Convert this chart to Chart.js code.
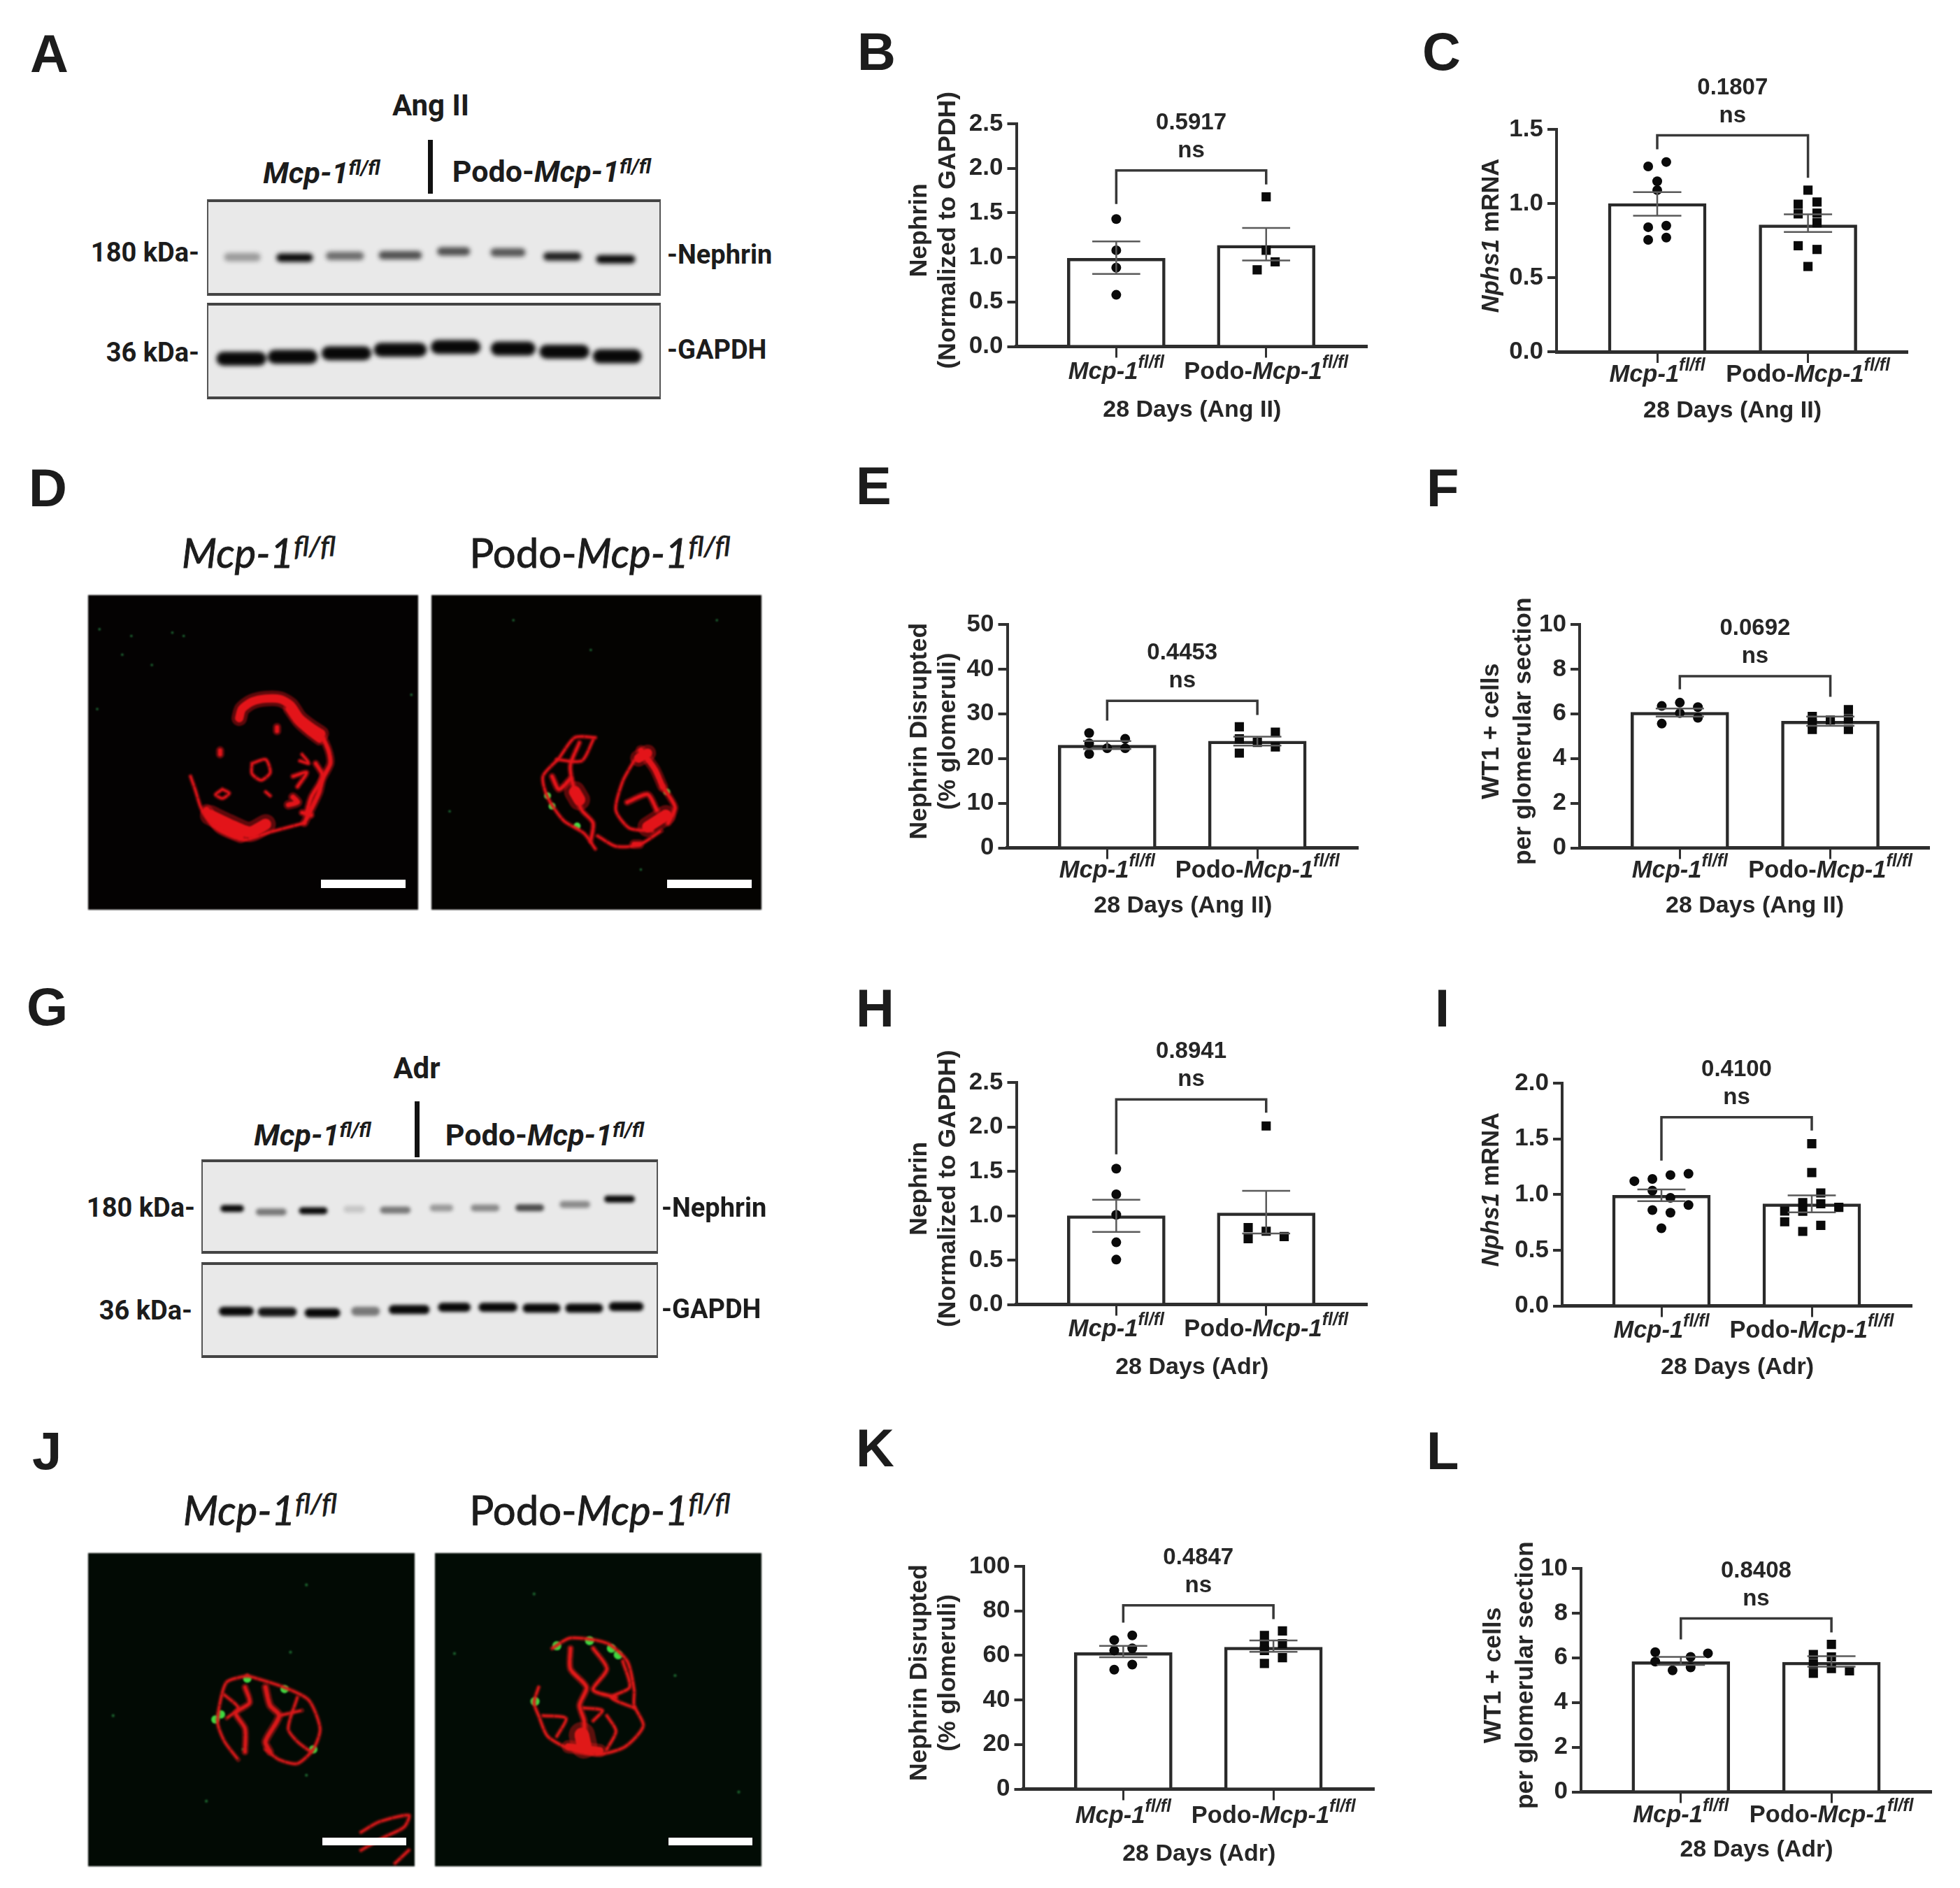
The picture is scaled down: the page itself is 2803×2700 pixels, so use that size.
<!DOCTYPE html>
<html>
<head>
<meta charset="utf-8">
<title>Nephrin panels</title>
<script src="https://cdn.jsdelivr.net/npm/chart.js@4"></script>
<style>
  html, body { margin: 0; background: #fff; }
  #page { position: relative; width: 2803px; height: 2700px; overflow: hidden; background: #fff; filter: blur(0.7px); }
  #page canvas { position: absolute; }
  .txt { position: absolute; white-space: nowrap; color: #1c1c1c; transform: translate(0, -50%); }
  .txt.c { transform: translate(-50%, -50%); }
  .txt.r { transform: translate(-100%, -50%); }
  .txt sup { font-size: 68%; line-height: 0; vertical-align: 0.42em; }
  .frame { position: absolute; box-sizing: border-box; background: #e9e9e9; border: 2px solid #555; border-top: 4px solid #444; border-bottom: 4px solid #444; }
  .box { position: absolute; }
</style>
</head>
<body>
<div id="page"></div>
<script>
// group labels, x axis conditions
const groupNames = ["Mcp-1", "Podo-Mcp-1"];
const supText = "fl/fl";
const angLabel = "28 Days (Ang II)";
const adrLabel = "28 Days (Adr)";

// B
const bMeans = [0.99, 1.135], bHigh = [1.18, 1.33], bLow = [0.815, 0.965];
const bMcp = [1.43, 1.08, 0.885, 0.58], bMcpX = [0, 0, 0, 0];
const bPodo = [1.68, 1.08, 0.95, 0.86], bPodoX = [1, 1, 1.06, 0.94];
// C
const cMeans = [1.0, 0.856], cHigh = [1.077, 0.927], cLow = [0.917, 0.808];
const cMcp = [1.28, 1.25, 1.15, 1.09, 0.84, 0.85, 0.755, 0.77], cMcpX = [0.06, -0.06, 0, 0, -0.06, 0.06, -0.06, 0.06];
const cPodo = [1.09, 0.995, 1.01, 0.93, 0.935, 0.87, 0.715, 0.69, 0.575], cPodoX = [1, 0.935, 1.06, 0.935, 1.06, 1.06, 0.935, 1.06, 1];
// E
const eMeans = [23, 23.9], eHigh = [23.9, 24.9], eLow = [22.1, 22.9];
const eMcp = [25.7, 23.4, 21, 22.3, 24.4, 22.3], eMcpX = [-0.12, -0.12, -0.12, 0, 0.12, 0.12];
const ePodo = [27.1, 24.4, 21.2, 23.6, 25.9, 22.6], ePodoX = [0.88, 0.88, 0.88, 1, 1.12, 1.12];
// F
const fMeans = [6.07, 5.67], fHigh = [6.24, 5.88], fLow = [5.88, 5.46];
const fMcp = [6.35, 5.56, 6.5, 6.03, 6.3, 5.82], fMcpX = [-0.12, -0.12, 0, 0, 0.12, 0.12];
const fPodo = [5.88, 5.56, 5.3, 5.72, 6.19, 5.77, 5.3], fPodoX = [0.88, 0.88, 0.88, 1, 1.12, 1.12, 1.12];
// H
const hMeans = [1.0, 1.03], hHigh = [1.18, 1.28], hLow = [0.816, 0.8];
const hMcp = [1.53, 1.24, 1.01, 0.7, 0.505], hMcpX = [0, 0, 0, 0, 0];
const hPodo = [2.01, 0.865, 0.74, 0.825, 0.765], hPodoX = [1, 0.88, 0.88, 1, 1.12];
// I
const iMeans = [0.993, 0.917], iHigh = [1.046, 0.992], iLow = [0.94, 0.84];
const iMcp = [1.12, 1.14, 1.175, 1.187, 1.035, 0.97, 0.906, 0.86, 0.837, 0.697];
const iMcpX = [-0.18, -0.06, 0.06, 0.18, -0.06, 0.06, 0.18, -0.06, 0.06, 0];
const iPodo = [1.456, 1.197, 1.014, 0.928, 0.917, 0.852, 0.85, 0.885, 0.755, 0.723, 0.669];
const iPodoX = [1, 1, 1.06, 0.94, 1.06, 0.82, 0.94, 1.18, 0.82, 1.06, 0.94];
// K
const kMeans = [61.3, 63.7], kHigh = [64.3, 66.7], kLow = [59.2, 61.6];
const kMcp = [66.9, 69, 62.2, 63.2, 53.6, 55.9], kMcpX = [-0.06, 0.06, -0.06, 0.06, -0.06, 0.06];
const kPodo = [69, 71, 65.3, 65.3, 62.2, 59, 56.4], kPodoX = [0.94, 1.06, 0.94, 1.06, 0.94, 1.06, 0.94];
// L
const lMeans = [5.83, 5.8], lHigh = [6.04, 6.07], lLow = [5.68, 5.6];
const lMcp = [6.25, 5.83, 5.44, 6.04, 5.57, 6.2], lMcpX = [-0.17, -0.17, -0.055, 0.065, 0.065, 0.18];
const lPodo = [6.15, 5.73, 5.31, 6.6, 6.04, 5.52, 5.42], lPodoX = [0.88, 0.88, 0.88, 1, 1, 1, 1.12];

// western blot bands, in crop units of each blot
const aNephX = [472, 574, 672, 780, 884, 990, 1096, 1200], aNephY = [803, 805, 798, 795, 778, 783, 800, 812];
const aNephW = [55, 55, 58, 68, 48, 52, 58, 60], aNephD = [0.35, 1, 0.55, 0.68, 0.68, 0.65, 0.9, 1];
const aGapdhX = [470, 570, 675, 780, 888, 1000, 1100, 1203], aGapdhY = [1238, 1230, 1215, 1200, 1188, 1195, 1208, 1228];
const aGapdhW = [70, 70, 70, 76, 70, 60, 70, 68], aGapdhD = [1, 1, 1, 1, 1, 1, 1, 1];
const gNephX = [452, 528, 610, 690, 770, 860, 945, 1032, 1120, 1207], gNephY = [745, 760, 755, 748, 752, 743, 743, 742, 728, 705];
const gNephW = [32, 46, 42, 28, 46, 32, 42, 42, 46, 46], gNephD = [1, 0.5, 1, 0.15, 0.5, 0.35, 0.42, 0.7, 0.42, 1];
const gGapdhX = [460, 540, 628, 712, 797, 885, 970, 1055, 1138, 1220], gGapdhY = [1185, 1188, 1192, 1185, 1178, 1168, 1168, 1172, 1172, 1165];
const gGapdhW = [50, 58, 52, 38, 62, 46, 58, 56, 56, 50], gGapdhD = [1, 0.95, 1, 0.5, 1, 1, 1, 1, 1, 1];

// micrograph traces, in crop units [width, x, y, x, y ...]
const dLeftRed = [
  [12, 372,775, 378,740, 400,712, 430,700, 462,702, 485,725, 505,775, 530,810, 552,835],
  [8, 480,740, 500,790, 525,830, 548,860],
  [6, 552,835, 568,900, 572,950, 555,1010, 548,1060, 535,1110, 515,1180],
  [5, 540,950, 555,1000, 530,1080, 520,1140],
  [16, 308,1150, 350,1185, 395,1215, 430,1185],
  [9, 300,1130, 330,1200, 375,1235],
  [3, 515,1180, 440,1215, 380,1245, 320,1200, 290,1130, 275,1050, 265,1000],
  [3, 400,950, 430,935, 440,985, 420,1015, 400,990, 400,950],
  [3, 335,1050, 350,1065, 335,1085, 320,1070, 335,1050],
  [4, 490,1000, 520,985, 500,1040],
  [3, 510,915, 525,950, 505,940],
  [7, 480,1110, 500,1100, 490,1080],
  [6, 455,810, 455,825],
  [6, 330,900, 330,915],
  [3, 430,1060, 440,1075],
  [5, 510,1140, 530,1150]
];
const dLeftGreen = [347,1218];
const dLeftFaint = [65,432, 135,458, 180,570, 115,530, 225,445, 250,458, 750,685, 60,740];
const dRightRed = [
  [3, 1155,850, 1110,850, 1075,930, 1040,1000, 1050,1080, 1085,1170, 1130,1220, 1155,1280],
  [4, 1120,870, 1100,960, 1110,1060, 1125,1130, 1150,1180, 1145,1250],
  [3, 1150,860, 1125,940, 1070,935],
  [5, 1060,1000, 1075,1050, 1100,1010],
  [17, 1110,1060, 1120,1090],
  [8, 1255,900, 1285,970, 1303,1040],
  [5, 1303,1040, 1330,1120, 1315,1180],
  [13, 1250,930, 1270,910],
  [3, 1240,940, 1215,1020, 1200,1130, 1230,1200, 1280,1210],
  [3, 1160,1230, 1200,1270, 1250,1265, 1300,1210],
  [16, 1270,1195, 1310,1150],
  [5, 1225,1100, 1270,1070, 1290,1130],
  [7, 1240,1262, 1252,1262]
];
const dRightGreen = [1050,1075, 1060,1115, 1115,1192, 1312,1060];
const dRightFaint = [1422,397, 975,397, 835,1135, 1255,1360, 1145,512];
const jLeftRed = [
  [3, 390,745, 345,770, 330,850, 325,930, 340,1000, 370,1070],
  [3, 390,745, 470,790, 525,840, 550,950, 535,1030, 500,1085, 460,1070, 430,1030],
  [5, 385,790, 395,850, 365,890, 385,950, 385,1040],
  [6, 430,790, 440,860, 460,900, 430,1000, 440,1040],
  [3, 500,830, 480,950, 500,1000, 530,1040],
  [3, 460,900, 510,880],
  [3, 340,820, 370,870, 345,910],
  [3, 640,1350, 680,1310, 745,1285, 735,1330, 690,1370, 640,1420],
  [3, 745,1420, 715,1470]
];
const jLeftGreen = [390,757, 472,797, 332,895, 320,915, 535,1030];
const jLeftFaint = [95,900, 485,655, 300,1230, 520,1130, 520,395, 380,1030];
const jRightRed = [
  [3, 1060,640, 1100,600, 1180,620, 1225,690, 1240,800, 1240,860, 1260,940, 1220,1020, 1160,1050, 1100,1030, 1050,980, 1030,900, 1020,850, 1030,790],
  [5, 1100,640, 1100,720, 1135,790, 1120,860, 1130,920, 1130,1010],
  [4, 1150,640, 1180,720, 1150,800, 1200,830],
  [3, 1040,900, 1090,910, 1070,980],
  [3, 1180,900, 1200,960, 1180,1030],
  [3, 1215,690, 1230,790, 1190,830, 1240,870],
  [3, 1130,870, 1170,880, 1150,920],
  [21, 1125,975, 1130,1015],
  [10, 1095,1020, 1165,1035]
];
const jRightGreen = [1070,630, 1142,610, 1190,640, 1205,665, 1022,845];
const jRightFaint = [845,660, 1470,1195, 1330,745, 1020,430, 1120,1015];

const page = document.getElementById("page");
const INK = "#262626";
const SANS = "'Liberation Sans', Arial, sans-serif";
const TOP_PAD = 130;

Chart.defaults.animation = false;
Chart.defaults.font.family = SANS;

function zip(xs, ys) { return ys.map((y, i) => ({ x: xs[i], y: y })); }

function errorPoints(i, hi, lo) {
  return [
    { x: i - 0.16, y: hi }, { x: i + 0.16, y: hi }, { x: i, y: null },
    { x: i, y: hi }, { x: i, y: lo }, { x: i, y: null },
    { x: i - 0.16, y: lo }, { x: i + 0.16, y: lo }
  ];
}

function drawRuns(ctx, runs, cx, cy) {
  let w = 0;
  runs.forEach(r => { ctx.font = r.f; w += ctx.measureText(r.t).width; });
  let x = cx - w / 2;
  ctx.textAlign = "left";
  ctx.textBaseline = "middle";
  ctx.fillStyle = INK;
  runs.forEach(r => {
    ctx.font = r.f;
    ctx.fillText(r.t, x, cy + (r.dy || 0));
    x += ctx.measureText(r.t).width;
  });
}

const annotate = {
  id: "annotate",
  afterDraw(chart, args, o) {
    const ctx = chart.ctx, sx = chart.scales.x, sy = chart.scales.y;
    ctx.save();
    const it = "italic bold 34.5px " + SANS, sup = "italic bold 25px " + SANS, bd = "bold 34.5px " + SANS;
    drawRuns(ctx, [{ t: groupNames[0], f: it }, { t: supText, f: sup, dy: -13 }], sx.getPixelForValue(0), sx.top + o.labelDy);
    drawRuns(ctx, [{ t: "Podo-", f: bd }, { t: groupNames[0], f: it }, { t: supText, f: sup, dy: -13 }], sx.getPixelForValue(1), sx.top + o.labelDy);
    const mid = sx.getPixelForValue(0.5), yb = sy.getPixelForValue(o.bracket[1]);
    ctx.textAlign = "center";
    ctx.textBaseline = "middle";
    ctx.fillStyle = INK;
    ctx.font = "bold 33px " + SANS;
    ctx.fillText(o.p, mid, yb - 68);
    ctx.fillText("ns", mid, yb - 28);
    ctx.translate(0, sy.top + (sy.bottom - sy.top) / 2 - 7);
    ctx.rotate(-Math.PI / 2);
    if (o.nphs) {
      ctx.translate(0, o.nphs);
      drawRuns(ctx, [{ t: "Nphs1", f: "italic bold 34.5px " + SANS }, { t: " mRNA", f: bd }], 0, 0);
    } else {
      o.yTitle.forEach((t, i) => {
        drawRuns(ctx, [{ t: t, f: "bold 35.5px " + SANS }], 0, o.yCols[i]);
      });
    }
    ctx.restore();
  }
};

function makePanel(p) {
  const left = p.titleLeft, yW = p.axisX - left, plotW = p.endX - p.axisX, plotH = p.zeroY - p.topY;
  const unit = p.c1 - p.c0, xH = p.titleDy + 21.5;
  const c = document.createElement("canvas");
  c.width = yW + plotW;
  c.height = TOP_PAD + plotH + xH;
  c.style.left = left + "px";
  c.style.top = (p.topY - TOP_PAD) + "px";
  page.appendChild(c);
  new Chart(c, {
    type: "bar",
    data: {
      datasets: [
        { type: "line", data: zip([0, 0, 1, 1], [p.bracket[0], p.bracket[1], p.bracket[1], p.bracket[2]]), borderColor: "#383838", borderWidth: 3.5, pointRadius: 0, tension: 0, clip: false, order: 1 },
        { type: "line", data: errorPoints(0, p.high[0], p.low[0]).concat([{ x: 0, y: null }], errorPoints(1, p.high[1], p.low[1])), borderColor: "#5a5a5a", borderWidth: 2.5, pointRadius: 0, tension: 0, spanGaps: false, order: 2 },
        { type: "scatter", data: zip(p.mcpX, p.mcp), pointStyle: "circle", pointRadius: 7, backgroundColor: "#0a0a0a", borderWidth: 0, order: 3 },
        { type: "scatter", data: zip(p.podoX, p.podo), pointStyle: "rect", pointRadius: 9.3, backgroundColor: "#0a0a0a", borderWidth: 0, order: 3 },
        { type: "bar", data: zip([0, 1], p.means), barThickness: 140, backgroundColor: "#fff", borderColor: "#2a2a2a", borderWidth: 4.5, order: 4 }
      ]
    },
    plugins: [annotate],
    options: {
      responsive: false,
      layout: { autoPadding: false, padding: { top: TOP_PAD, left: 0, right: 0, bottom: 0 } },
      plugins: {
        legend: { display: false }, tooltip: { enabled: false },
        annotate: { p: p.pValue, bracket: p.bracket, nphs: p.nphs, yTitle: p.yTitle, yCols: p.yCols, labelDy: p.labelDy }
      },
      scales: {
        x: {
          type: "linear",
          offset: false,
          min: (p.axisX - p.c0) / unit,
          max: (p.endX - p.c0) / unit,
          afterBuildTicks: s => { s.ticks = [{ value: 0 }, { value: 1 }]; },
          afterFit: s => { s.height = xH; s.paddingLeft = 0; s.paddingRight = 0; },
          ticks: { display: false },
          grid: { offset: false, drawOnChartArea: false, tickLength: 16, color: "#303030", lineWidth: 3 },
          border: { color: "#2e2e2e", width: 5 },
          title: { display: true, text: p.xTitle, color: INK, font: { size: 34, weight: "bold" }, padding: 0 }
        },
        y: {
          min: 0,
          max: p.max,
          afterFit: s => { s.width = yW; s.paddingTop = 0; s.paddingBottom = 0; },
          ticks: { stepSize: p.step, padding: 6, color: INK, font: { size: 35, weight: "bold" }, callback: v => v.toFixed(p.dec) },
          grid: { drawOnChartArea: false, tickLength: 13, color: "#303030", lineWidth: 4 },
          border: { color: "#303030", width: 4 }
        }
      }
    }
  });
}

const nephrinNorm = ["Nephrin", "(Normalized to GAPDH)"];
const nephrinDis = ["Nephrin Disrupted", "(% glomeruli)"];
const wt1 = ["WT1 + cells", "per glomerular section"];

[
  { titleLeft: 1294.5, axisX: 1453, endX: 1956, topY: 177, zeroY: 496, c0: 1596, c1: 1810.6, max: 2.5, step: 0.5, dec: 1, means: bMeans, high: bHigh, low: bLow, mcp: bMcp, mcpX: bMcpX, podo: bPodo, podoX: bPodoX, bracket: [1.6, 1.976, 1.82], pValue: "0.5917", xTitle: angLabel, yTitle: nephrinNorm, yCols: [1315 - 1294.5, 1356 - 1294.5], labelDy: 37, titleDy: 90 },
  { titleLeft: 2110, axisX: 2226, endX: 2729, topY: 184.5, zeroY: 503, c0: 2370, c1: 2585.6, max: 1.5, step: 0.5, dec: 1, means: cMeans, high: cHigh, low: cLow, mcp: cMcp, mcpX: cMcpX, podo: cPodo, podoX: cPodoX, bracket: [1.365, 1.46, 1.173], pValue: "0.1807", xTitle: angLabel, nphs: 23, labelDy: 33, titleDy: 83.5 },
  { titleLeft: 1294.5, axisX: 1440, endX: 1943, topY: 893, zeroY: 1212.5, c0: 1583, c1: 1798, max: 50, step: 10, dec: 0, means: eMeans, high: eHigh, low: eLow, mcp: eMcp, mcpX: eMcpX, podo: ePodo, podoX: ePodoX, bracket: [28.5, 32.9, 29.75], pValue: "0.4453", xTitle: angLabel, yTitle: nephrinDis, yCols: [1315 - 1294.5, 1356 - 1294.5], labelDy: 32.5, titleDy: 82 },
  { titleLeft: 2110, axisX: 2259, endX: 2760.6, topY: 893, zeroY: 1212.5, c0: 2402.5, c1: 2618, max: 10, step: 2, dec: 0, means: fMeans, high: fHigh, low: fLow, mcp: fMcp, mcpX: fMcpX, podo: fPodo, podoX: fPodoX, bracket: [7.1, 7.68, 6.76], pValue: "0.0692", xTitle: angLabel, yTitle: wt1, yCols: [2133 - 2110, 2179 - 2110], labelDy: 32.5, titleDy: 82 },
  { titleLeft: 1294.5, axisX: 1453, endX: 1956, topY: 1547.5, zeroY: 1865.5, c0: 1596, c1: 1810.6, max: 2.5, step: 0.5, dec: 1, means: hMeans, high: hHigh, low: hLow, mcp: hMcp, mcpX: hMcpX, podo: hPodo, podoX: hPodoX, bracket: [1.69, 2.31, 2.16], pValue: "0.8941", xTitle: adrLabel, yTitle: nephrinNorm, yCols: [1315 - 1294.5, 1356 - 1294.5], labelDy: 36, titleDy: 89 },
  { titleLeft: 2110, axisX: 2234, endX: 2735, topY: 1548.5, zeroY: 1867, c0: 2376, c1: 2591, max: 2, step: 0.5, dec: 1, means: iMeans, high: iHigh, low: iLow, mcp: iMcp, mcpX: iMcpX, podo: iPodo, podoX: iPodoX, bracket: [1.305, 1.694, 1.575], pValue: "0.4100", xTitle: adrLabel, nphs: 23, labelDy: 36, titleDy: 87 },
  { titleLeft: 1294.5, axisX: 1463, endX: 1966, topY: 2239.5, zeroY: 2558, c0: 1606, c1: 1821, max: 100, step: 20, dec: 0, means: kMeans, high: kHigh, low: kLow, mcp: kMcp, mcpX: kMcpX, podo: kPodo, podoX: kPodoX, bracket: [74.7, 82.5, 76.3], pValue: "0.4847", xTitle: adrLabel, yTitle: nephrinDis, yCols: [1315 - 1294.5, 1356 - 1294.5], labelDy: 38.5, titleDy: 92 },
  { titleLeft: 2112.6, axisX: 2260.6, endX: 2763, topY: 2243, zeroY: 2563, c0: 2403.5, c1: 2619, max: 10, step: 2, dec: 0, means: lMeans, high: lHigh, low: lLow, mcp: lMcp, mcpX: lMcpX, podo: lPodo, podoX: lPodoX, bracket: [6.82, 7.76, 7.14], pValue: "0.8408", xTitle: adrLabel, yTitle: wt1, yCols: [2136 - 2112.6, 2181.5 - 2112.6], labelDy: 33.5, titleDy: 82 }
].forEach(makePanel);

// plain chart with hidden axes over a picture area
function hiddenChart(box, xr, yr, datasets, filter, bg) {
  const c = document.createElement("canvas");
  c.width = box.w;
  c.height = box.h;
  c.style.left = box.x + "px";
  c.style.top = box.y + "px";
  if (filter) c.style.filter = filter;
  if (bg) c.style.background = bg;
  page.appendChild(c);
  new Chart(c, {
    type: "line",
    data: { datasets: datasets },
    options: {
      responsive: false,
      layout: { autoPadding: false },
      plugins: { legend: { display: false }, tooltip: { enabled: false } },
      scales: {
        x: { type: "linear", display: false, min: xr[0], max: xr[1] },
        y: { display: false, min: yr[0], max: yr[1], reverse: true }
      }
    }
  });
}

function frame(x, y, w, h) {
  const d = document.createElement("div");
  d.className = "frame";
  d.style.cssText = "left:" + x + "px;top:" + y + "px;width:" + w + "px;height:" + h + "px";
  page.appendChild(d);
}

function bandSets(xs, ys, ws, ds, thick) {
  return xs.map((x, i) => ({
    data: [{ x: x - ws[i] / 2, y: ys[i] }, { x: x + ws[i] / 2, y: ys[i] }],
    borderColor: "rgba(8,8,8," + ds[i] + ")",
    borderWidth: thick,
    borderCapStyle: "round",
    pointRadius: 0
  }));
}

frame(296, 285, 649, 138);
frame(296, 433, 649, 138);
hiddenChart({ x: 296, y: 285, w: 649, h: 286 }, [403, 1288], [555, 1412],
  bandSets(aNephX, aNephY, aNephW, aNephD, 12).concat(bandSets(aGapdhX, aGapdhY, aGapdhW, aGapdhD, 20)), "blur(3px)");
frame(288, 1658, 653, 135);
frame(288, 1805, 653, 137);
hiddenChart({ x: 288, y: 1658, w: 653, h: 284 }, [392, 1282], [535, 1385],
  bandSets(gNephX, gNephY, gNephW, gNephD, 10).concat(bandSets(gGapdhX, gGapdhY, gGapdhW, gGapdhD, 13)), "blur(2.5px)");

function traceSets(traces, color) {
  const soft = traces.map(t => {
    const pts = [];
    for (let i = 1; i < t.length; i += 2) pts.push({ x: t[i], y: t[i + 1] });
    return { data: pts, borderColor: color + "66", borderWidth: t[0] * 1.7 + 2, borderCapStyle: "round", borderJoinStyle: "round", tension: 0.25, pointRadius: 0 };
  });
  const core = traces.map(t => {
    const pts = [];
    for (let i = 1; i < t.length; i += 2) pts.push({ x: t[i], y: t[i + 1] });
    return { data: pts, borderColor: color, borderWidth: t[0], borderCapStyle: "round", borderJoinStyle: "round", borderDash: t[0] < 10 ? [14, 3] : [], tension: 0.25, pointRadius: 0 };
  });
  return soft.concat(core);
}
function dotSet(flat, radius, color) {
  const pts = [];
  for (let i = 0; i < flat.length; i += 2) pts.push({ x: flat[i], y: flat[i + 1] });
  return { data: pts, showLine: false, pointRadius: radius, backgroundColor: color, borderWidth: 0 };
}

hiddenChart({ x: 126, y: 851, w: 472, h: 450 }, [40, 765], [300, 1515],
  traceSets(dLeftRed, "#e3141a").concat([dotSet(dLeftGreen, 4, "#35c83f"), dotSet(dLeftFaint, 1.8, "#1f6a35")]), "blur(1.3px)", "#040202");
hiddenChart({ x: 617, y: 851, w: 472, h: 450 }, [795, 1520], [300, 1515],
  traceSets(dRightRed, "#e3141a").concat([dotSet(dRightGreen, 5, "#48dc46"), dotSet(dRightFaint, 1.8, "#1f6a35")]), "blur(1.3px)", "#040301");
hiddenChart({ x: 126, y: 2221, w: 467, h: 448 }, [40, 758], [272, 1482],
  traceSets(jLeftRed, "#d8181a").concat([dotSet(jLeftGreen, 6, "#3fd840"), dotSet(jLeftFaint, 2.2, "#1a5c2a")]), "blur(1.3px)", "#020a04");
hiddenChart({ x: 622, y: 2221, w: 467, h: 448 }, [802, 1520], [272, 1482],
  traceSets(jRightRed, "#e01a18").concat([dotSet(jRightGreen, 6.5, "#3fd840"), dotSet(jRightFaint, 2.2, "#1a5c2a")]), "blur(1.3px)", "#020c05");

// white scale bars
[[459, 1258, 121, 12], [954, 1258, 121, 12], [461, 2628, 120, 11], [956, 2628, 120, 11]].forEach(b => {
  const d = document.createElement("div");
  d.className = "box";
  d.style.cssText = "background:#fff;left:" + b[0] + "px;top:" + b[1] + "px;width:" + b[2] + "px;height:" + b[3] + "px";
  page.appendChild(d);
});

function addText(html, x, y, font, cls) {
  const d = document.createElement("div");
  d.className = "txt " + (cls || "");
  d.innerHTML = html;
  d.style.left = x + "px";
  d.style.top = y + "px";
  d.style.font = font;
  page.appendChild(d);
}

const LETTER = "bold 76px " + SANS;
[["A", 43, 76], ["B", 1226, 73], ["C", 2034, 73], ["D", 41, 697], ["E", 1224, 694], ["F", 2040, 697],
 ["G", 38, 1439], ["H", 1224, 1441], ["I", 2052, 1441], ["J", 46, 2074], ["K", 1224, 2070], ["L", 2040, 2074]]
  .forEach(l => addText(l[0], l[1], l[2], LETTER));

const BLOT = "bold 38px Roboto, sans-serif";
const BLOT_GROUP = "bold 43px Roboto, sans-serif";
const mcpHtml = "<i>Mcp-1<sup>fl/fl</sup></i>";
const podoHtml = "Podo-<i>Mcp-1<sup>fl/fl</sup></i>";
addText("Ang II", 616, 150, "bold 42px Roboto, sans-serif", "c");
addText(mcpHtml, 460, 247, BLOT_GROUP, "c");
addText(podoHtml, 789, 245, BLOT_GROUP, "c");
addText("180 kDa-", 285, 361, BLOT, "r");
addText("-Nephrin", 954, 364, BLOT);
addText("36 kDa-", 285, 504, BLOT, "r");
addText("-GAPDH", 954, 500, BLOT);
addText("Adr", 596, 1527, "bold 42px Roboto, sans-serif", "c");
addText(mcpHtml, 447, 1623, BLOT_GROUP, "c");
addText(podoHtml, 779, 1623, BLOT_GROUP, "c");
addText("180 kDa-", 279, 1727, BLOT, "r");
addText("-Nephrin", 946, 1727, BLOT);
addText("36 kDa-", 275, 1874, BLOT, "r");
addText("-GAPDH", 946, 1872, BLOT);

// divider lines above the blots
[[612, 200, 7, 77], [593, 1575, 7, 80]].forEach(b => {
  const d = document.createElement("div");
  d.className = "box";
  d.style.cssText = "background:#111;left:" + b[0] + "px;top:" + b[1] + "px;width:" + b[2] + "px;height:" + b[3] + "px";
  page.appendChild(d);
});

const IMG = "58px Lato, sans-serif";
function addImgTitle(html, x, y) {
  addText(html, x, y, IMG, "c");
  page.lastChild.style.webkitTextStroke = "0.9px #1c1c1c";
}
addImgTitle(mcpHtml, 370, 789);
addImgTitle(podoHtml, 858, 789);
addImgTitle(mcpHtml, 372, 2158);
addImgTitle(podoHtml, 858, 2158);
</script>
</body>
</html>
